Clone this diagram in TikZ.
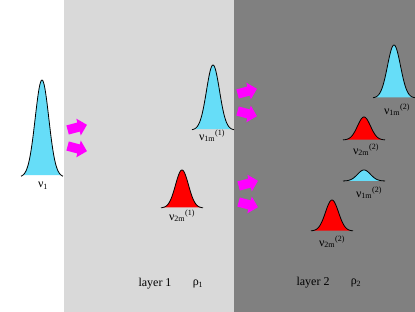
\documentclass[tikz,border=0pt]{standalone}
\usepackage{fontspec}
\setmainfont{Liberation Serif}
\usetikzlibrary{shapes.arrows}
\definecolor{lightbg}{RGB}{217,217,217}
\definecolor{darkbg}{RGB}{128,128,128}
\definecolor{bumpcyan}{RGB}{102,221,248}
\definecolor{bumpred}{RGB}{255,0,0}
\definecolor{fatmag}{RGB}{255,0,255}
\tikzset{
  curve/.style={black, line width=0.8pt},
  lbl/.style={font=\fontsize{12}{14}\selectfont, inner sep=0pt},
  fat/.style={single arrow, fill=fatmag, draw=none, inner xsep=0pt, inner ysep=4.5pt,
    minimum height=20pt, single arrow head extend=4pt},
  pics/bump/.style n args={3}{code={
    \fill[#3] plot[domain=-19:19,samples=61,smooth] (\x,{-#1*exp(-(\x*\x)/(2*#2*#2))}) -- cycle;
    \draw[curve] plot[domain=-21:21,samples=61,smooth] (\x,{-#1*exp(-(\x*\x)/(2*#2*#2))});
  }}
}
\begin{document}
\begin{tikzpicture}[x=1pt,y=-1pt]
\useasboundingbox (0,0) rectangle (415,312);
\fill[white] (0,0) rectangle (64,312);
\fill[lightbg] (64,0) rectangle (234,312);
\fill[darkbg] (234,0) rectangle (415,312);

% bumps
\pic (g1) at (42,177) {bump={97}{6.8}{bumpcyan}};
\pic (g2) at (213,130) {bump={65}{6.5}{bumpcyan}};
\pic (g3) at (182,208) {bump={38}{6.5}{bumpred}};
\pic (g4) at (394,98) {bump={53}{6.5}{bumpcyan}};
\pic (g5) at (364,140) {bump={23}{6.5}{bumpred}};
\pic (g6) at (364,181) {bump={11}{6.5}{bumpcyan}};
\pic (g7) at (332,231) {bump={31}{6.5}{bumpred}};

% labels
\node[lbl] (l1) at (43,186) {ν\textsubscript{1}};
\node[lbl] (l2) at (212,136) {ν\textsubscript{1m}\textsuperscript{(1)}};
\node[lbl] (l3) at (182,216) {ν\textsubscript{2m}\textsuperscript{(1)}};
\node[lbl] (l4) at (397,110) {ν\textsubscript{1m}\textsuperscript{(2)}};
\node[lbl] (l5) at (366,150) {ν\textsubscript{2m}\textsuperscript{(2)}};
\node[lbl] (l6) at (369,193) {ν\textsubscript{1m}\textsuperscript{(2)}};
\node[lbl] (l7) at (332,242) {ν\textsubscript{2m}\textsuperscript{(2)}};

% arrows
\node[fat, rotate=15] (a1) at (75,128) {};
\node[fat, rotate=-15] (a2) at (75,148) {};
\node[fat, rotate=15] (a3) at (245,92) {};
\node[fat, rotate=-15] (a4) at (245,113) {};
\node[fat, rotate=15] (a5) at (246,184) {};
\node[fat, rotate=-15] (a6) at (246,204) {};

% layer labels
\node[lbl] (t1) at (155,284) {layer 1};
\node[lbl] (r1) at (198,284) {ρ\textsubscript{1}};
\node[lbl] (t2) at (313,283) {layer 2};
\node[lbl] (r2) at (356,283) {ρ\textsubscript{2}};
\end{tikzpicture}
\end{document}
